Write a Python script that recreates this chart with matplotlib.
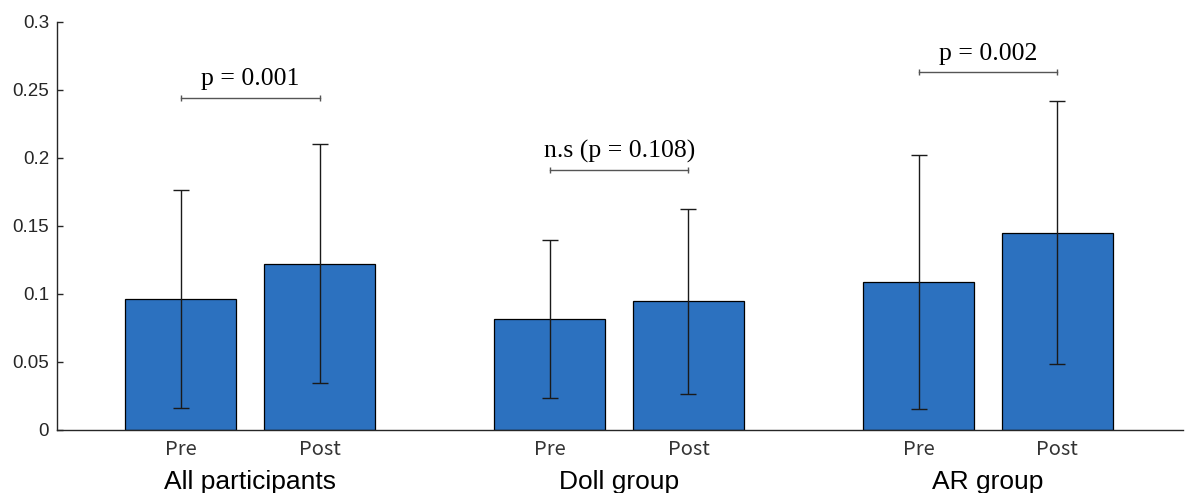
import numpy as np
import matplotlib
matplotlib.use("Agg")
import matplotlib.pyplot as plt

# data
groups = ["All participants", "Doll group", "AR group"]
conditions = ["Pre", "Post"]
pre_means = [0.0963, 0.0814, 0.1086]
post_means = [0.1222, 0.0944, 0.1449]
pre_sd = [0.0800, 0.0580, 0.0937]
post_sd = [0.0878, 0.0679, 0.0965]
p_labels = ["p = 0.001", "n.s (p = 0.108)", "p = 0.002"]
bracket_y = [0.2441, 0.1910, 0.2628]

bar_color = "#2C71BF"
dark = "#262626"
offset = 0.188
width = 0.301

fig = plt.figure(figsize=(11.87, 4.93), dpi=100)
ax = fig.add_axes([0.0484, 0.1284, 0.9480, 0.8276])

gx = np.arange(1, len(groups) + 1)
pre_x = gx - offset
post_x = gx + offset

ax.bar(pre_x, pre_means, width=width, color=bar_color, edgecolor="black", linewidth=0.9, zorder=2)
ax.bar(post_x, post_means, width=width, color=bar_color, edgecolor="black", linewidth=0.9, zorder=2)
ax.errorbar(pre_x, pre_means, yerr=pre_sd, fmt="none", ecolor="#1a1a1a", elinewidth=1.0, capsize=6, capthick=1.0, zorder=3)
ax.errorbar(post_x, post_means, yerr=post_sd, fmt="none", ecolor="#1a1a1a", elinewidth=1.0, capsize=6, capthick=1.0, zorder=3)

# significance brackets
for i in range(len(groups)):
    ax.plot([pre_x[i], post_x[i]], [bracket_y[i], bracket_y[i]], color="#555555", linewidth=1.0,
            marker="|", markersize=4, markeredgewidth=1.0, zorder=3)
    ax.annotate(p_labels[i], xy=(gx[i], bracket_y[i]), xytext=(0, 8.8), textcoords="offset points",
                ha="center", va="baseline", fontsize=18.5, family="Liberation Serif", color="black")

ax.set_xlim(0.4775, 3.5277)
ax.set_ylim(0, 0.3)
ax.set_yticks([0, 0.05, 0.1, 0.15, 0.2, 0.25, 0.3])
ax.set_yticklabels(["0", "0.05", "0.1", "0.15", "0.2", "0.25", "0.3"], family="Liberation Sans", fontsize=13.5)

xt = np.ravel(np.column_stack([pre_x, post_x]))
ax.set_xticks(xt)
ax.set_xticklabels(conditions * len(groups), family="Noto Sans CJK JP", fontsize=14.5, color="#333333")

ax.tick_params(axis="y", direction="in", length=4, width=1, color=dark, labelcolor=dark, pad=6)
ax.tick_params(axis="x", direction="in", length=4, width=1, color=dark, pad=7)

for s in ["top", "right"]:
    ax.spines[s].set_visible(False)
for s in ["left", "bottom"]:
    ax.spines[s].set_color(dark)
    ax.spines[s].set_linewidth(1.0)

# group names under the tick labels
for i, g in enumerate(groups):
    ax.text(gx[i], -0.146, g, transform=ax.get_xaxis_transform(), ha="center", va="baseline",
            fontsize=19, family="Liberation Sans", color="black")

fig.savefig("out.png", dpi=100)
